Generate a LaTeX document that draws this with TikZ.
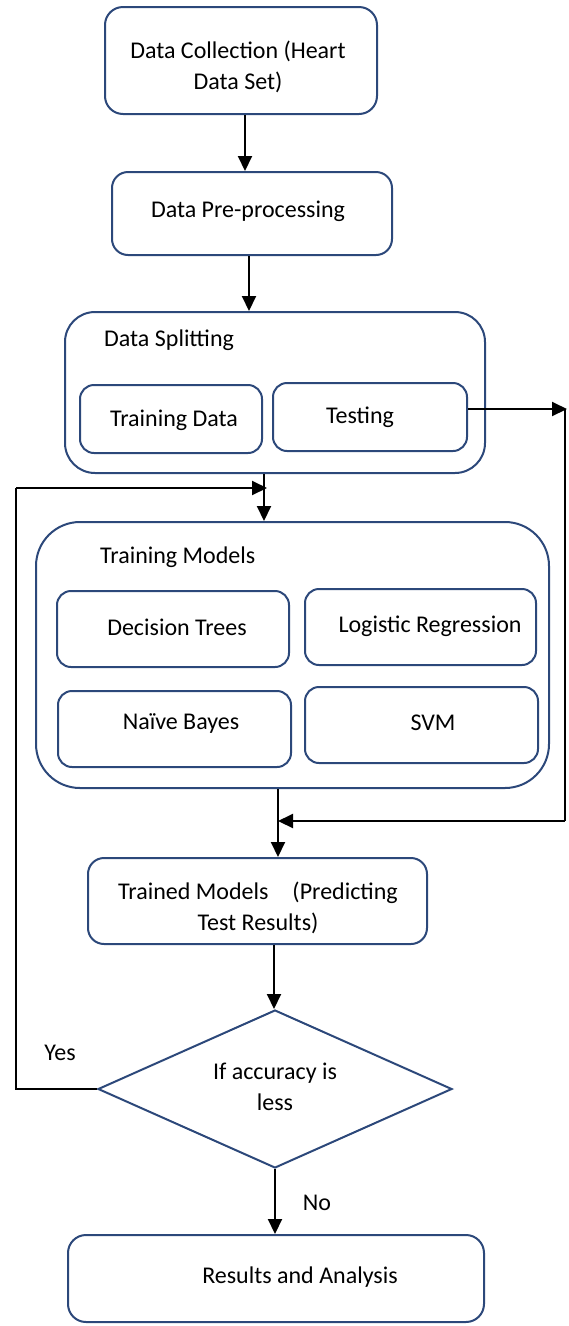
\documentclass[tikz,border=0pt]{standalone}
\usepackage{fontspec}
\setmainfont{Carlito}
\usetikzlibrary{arrows.meta,shapes.geometric,calc}
\definecolor{boxblue}{RGB}{44,72,122}
\tikzset{
  box/.style={draw=boxblue,line width=2pt,rounded corners=#1,inner sep=0pt},
  box/.default=16pt,
  lbl/.style={font=\fontsize{24}{31}\selectfont,inner sep=0pt,align=center},
  arr/.style={line width=2pt,-{Triangle[length=15pt,width=14pt]}},
  ln/.style={line width=2pt}
}
\begin{document}
\begin{tikzpicture}[x=1pt,y=-1pt]
\useasboundingbox (0,0) rectangle (568,1326);
% boxes
\node[box=18pt,minimum width=272pt,minimum height=107pt] (b1) at (241,60.5) {};
\node[box=16pt,minimum width=280pt,minimum height=83pt] (b2) at (252,213.5) {};
\node[box=30pt,minimum width=420pt,minimum height=161pt] (ds) at (275,392.5) {};
\node[box=14pt,minimum width=182pt,minimum height=68pt] (td) at (171,419) {};
\node[box=14pt,minimum width=194pt,minimum height=68pt] (te) at (370,417) {};
\node[box=44pt,minimum width=513pt,minimum height=266pt] (tm) at (292.5,655) {};
\node[box=14pt,minimum width=232pt,minimum height=76pt] (dt) at (173,629) {};
\node[box=14pt,minimum width=231pt,minimum height=76pt] (lr) at (420.5,627) {};
\node[box=14pt,minimum width=233pt,minimum height=76pt] (nb) at (174.5,729) {};
\node[box=14pt,minimum width=233pt,minimum height=76pt] (sv) at (421.5,725) {};
\node[box=16pt,minimum width=339pt,minimum height=86pt] (tr) at (257.5,901) {};
\node[draw=boxblue,line width=2pt,diamond,inner sep=0pt,minimum width=354pt,minimum height=158pt] (dm) at (275,1089) {};
\node[box=18pt,minimum width=416pt,minimum height=87pt] (rs) at (276,1278.5) {};
% texts
\node[lbl] (t1) at (238,67) {Data Collection (Heart\\Data Set)};
\node[lbl] (t2) at (248,211) {Data Pre-processing};
\node[lbl,anchor=west] (t3) at (104,340) {Data Splitting};
\node[lbl] (t4) at (174,420) {Training Data};
\node[lbl] (t5) at (360,417) {Testing};
\node[lbl,anchor=west] (t6) at (100,557) {Training Models};
\node[lbl] (t7) at (177,627) {Decision Trees};
\node[lbl] (t8) at (430,626) {Logistic Regression};
\node[lbl] (t9) at (181,723) {Naïve Bayes};
\node[lbl] (t10) at (433,723) {SVM};
\node[lbl] (t11) at (258,907.5) {Trained Models\quad(Predicting\\Test Results)};
\node[lbl] (t12) at (275,1087) {If accuracy is\\less};
\node[lbl] (t13) at (60,1053) {Yes};
\node[lbl] (t14) at (317,1203) {No};
\node[lbl] (t15) at (300,1277) {Results and Analysis};
% coordinates
\coordinate (rt) at (565,409);
\coordinate (lt) at (16,488);
\coordinate (lb) at (16,1089);
% connectors
\draw[arr] (b1.south -| 245,0) -- (b2.north -| 245,0);
\draw[arr] (b2.south -| 249,0) -- (ds.north -| 249,0);
\draw[arr] (te.east |- rt) -- ($(rt)+(2,0)$);
\draw[ln] (rt) -- (rt |- 0,821);
\draw[arr] (rt |- 0,821) -- (278,821);
\draw[arr] (ds.south -| 264,0) -- (tm.north -| 264,0);
\draw[ln] (dm.west) -- (lb) -- (lt);
\draw[arr] (lt) -- (267,488);
\draw[arr] (tm.south -| 278,0) -- (tr.north -| 278,0);
\draw[arr] (tr.south -| 274,0) -- (dm.north -| 274,0);
\draw[arr] (dm.south) -- (rs.north -| dm.south);
\end{tikzpicture}
\end{document}
